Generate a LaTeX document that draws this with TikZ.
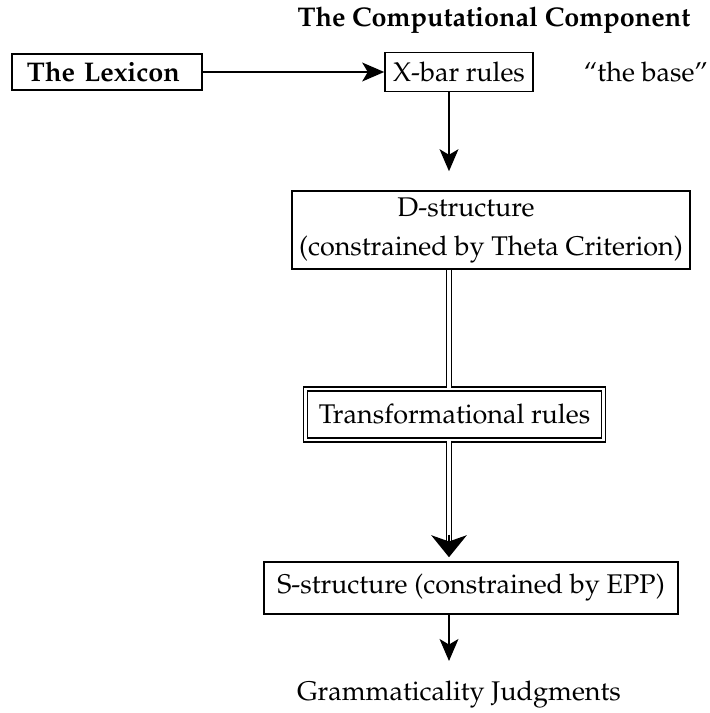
\documentclass[tikz,border=0pt]{standalone}
\usepackage[T1]{fontenc}
\usepackage{mathpazo}
\usetikzlibrary{arrows.meta}

\tikzset{
  arr/.style={-{Stealth[length=9.9pt, width=8.5pt, inset=2.5pt]}},
  bigarr/.style={-{Stealth[length=9.9pt, width=16pt, inset=2.8pt]}},
  dbl/.style={double, line width=0.65pt, double distance=1.5pt},
  box/.style={draw, line width=0.7pt}
}

\begin{document}
\begin{tikzpicture}[x=0.45pt, y=-0.45pt]
      \useasboundingbox (0,0) rectangle (709,713);
      \coordinate (spine) at (449,0);
      \begin{scope}[every node/.style={font=\fontsize{12.15pt}{17.55pt}\selectfont, inner sep=0pt}]
        \node (title) at (494,20) {\bfseries The Computational Component};
        \node (lex)[box, text width=72pt, minimum height=16.2pt, inner xsep=6.75pt, align=left] at (107,72) {\bfseries The Lexicon};
        \node (xbar)[box, minimum width=66.6pt, minimum height=17.55pt] at (459,72) {X-bar rules};
        \node (base) at (646,72) {``the base''};
        \node (dstruct)[box, minimum width=179.1pt, minimum height=35.1pt, align=center] at (491,230)
          {D-structure\rule{22.5pt}{0pt}\\(constrained by Theta Criterion)};
        \node (trans)[draw, double, line width=0.75pt, double distance=1.1pt, minimum width=134.1pt, minimum height=22.95pt] at (454.5,414.5) {Transformational rules};
        \node (sstruct)[box, minimum width=186.3pt, minimum height=23.4pt] at (471,588) {S-structure (constrained by EPP)};
        \node (gram) at (459,695) {Grammaticality Judgments};
      \end{scope}
      \begin{scope}[every edge/.style={draw=black, line width=0.6pt}]
        \path (lex) edge[arr] (xbar);
        \path (xbar.south -| spine) edge[arr, shorten >=8.55pt] (dstruct.north -| spine);
        \path (dstruct.south -| spine) edge[dbl] (trans.north -| spine);
        \path (trans.south -| spine) edge[dbl, shorten >=7pt] (sstruct.north -| spine);
        \path ([yshift=12pt]sstruct.north -| spine) edge[bigarr, shorten >=1.8pt] (sstruct.north -| spine);
        \path (sstruct.south -| spine) edge[arr, shorten >=9pt] (gram.north -| spine);
      \end{scope}
    \end{tikzpicture}
\end{document}
